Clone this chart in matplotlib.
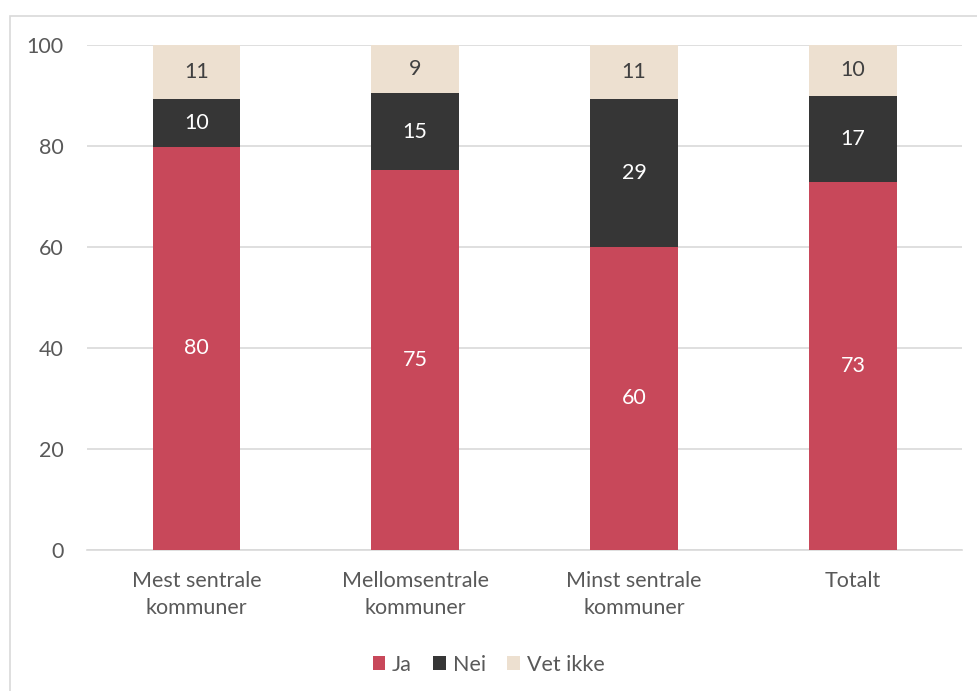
import numpy as np
import matplotlib.pyplot as plt
from matplotlib.patches import Rectangle

plt.rcParams['font.family'] = ['Lato', 'DejaVu Sans']

# data (percent)
categories = ['Mest sentrale\nkommuner', 'Mellomsentrale\nkommuner',
              'Minst sentrale\nkommuner', 'Totalt']
ja = [79.8, 75.2, 60.0, 72.9]
nei = [9.5, 15.3, 29.3, 17.0]
vet_ikke = [10.7, 9.4, 10.7, 10.1]
series_names = ['Ja', 'Nei', 'Vet ikke']

colors = ['#C8485A', '#363636', '#EDE0D0']
label_colors = ['white', 'white', '#404040']
text_gray = '#595959'
fs = 15.5

fig = plt.figure(figsize=(9.77, 6.91), dpi=100)
ax = fig.add_axes([0.089, 0.204, 0.896, 0.731])

# outer frame
fig.patches.append(Rectangle((10 / 977, -0.1), 1.2, 1.1 - 16 / 691,
                             transform=fig.transFigure, fill=False,
                             edgecolor='#D9D9D9', linewidth=1.2))

x = np.arange(len(categories))
bottom = np.zeros(len(categories))
for vals, name, col, lcol in zip([ja, nei, vet_ikke], series_names, colors, label_colors):
    vals = np.array(vals)
    ax.bar(x, vals, 0.4, bottom=bottom, color=col, label=name, zorder=3)
    for xi, b, v in zip(x, bottom, vals):
        ax.text(xi, b + v / 2, f'{v:.0f}', ha='center', va='center',
                color=lcol, fontsize=fs, zorder=4)
    bottom += vals

ax.set_xlim(-0.5, 3.5)
ax.set_ylim(0, 100)
ax.set_yticks(range(0, 101, 20))
ax.yaxis.grid(True, color='#D9D9D9', linewidth=1.2, zorder=0)
ax.set_axisbelow(True)
for s in ['top', 'right', 'left']:
    ax.spines[s].set_visible(False)
ax.spines['bottom'].set_color('#D9D9D9')
ax.spines['bottom'].set_linewidth(1.2)
ax.tick_params(length=0, labelsize=fs, labelcolor=text_gray)
ax.tick_params(axis='y', pad=17)
ax.tick_params(axis='x', pad=15)
ax.set_xticks(x)
ax.set_xticklabels(categories, linespacing=1.45)

fig.legend(loc='center', bbox_to_anchor=(0.5, 0.038), ncol=3, frameon=False,
           fontsize=fs, labelcolor=text_gray, handlelength=0.6,
           handleheight=0.6, handletextpad=0.3, columnspacing=1.0)

fig.savefig('out.png', dpi=100)
